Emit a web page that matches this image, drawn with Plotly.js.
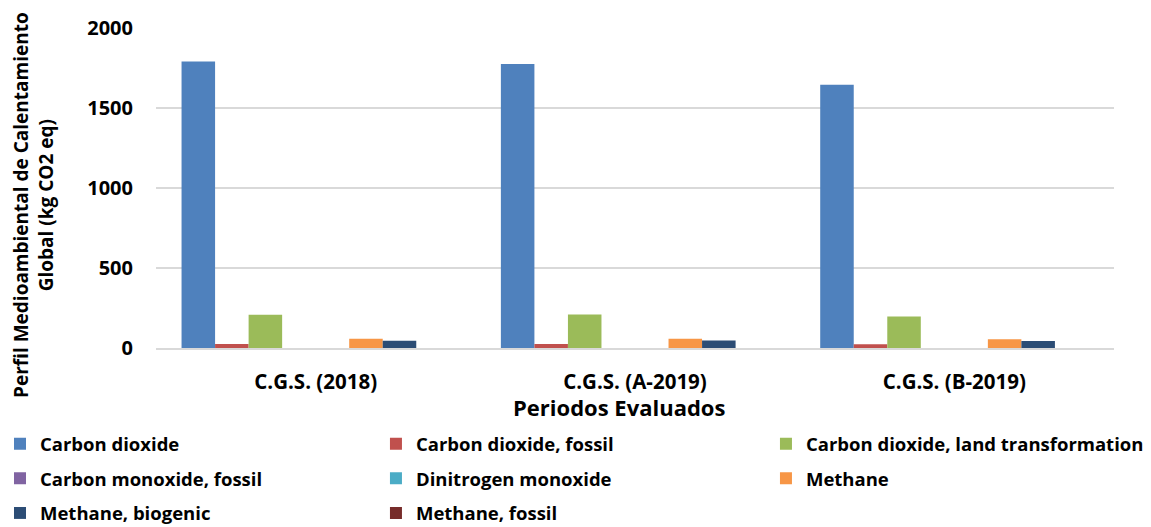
<!DOCTYPE html>
<html>
<head>
<meta charset="utf-8">
<script src="https://cdn.plot.ly/plotly-3.0.1.min.js"></script>
<style>html,body{margin:0;padding:0;background:#fff;}#chart{width:1151px;height:527px;}</style>
</head>
<body>
<div id="chart"></div>
<script>
const categories = ["C.G.S. (2018)", "C.G.S. (A-2019)", "C.G.S. (B-2019)"];
const seriesNames = ["Carbon dioxide", "Carbon dioxide, fossil", "Carbon dioxide, land transformation",
  "Carbon monoxide, fossil", "Dinitrogen monoxide", "Methane", "Methane, biogenic", "Methane, fossil"];
const carbonDioxide = [1790, 1775, 1645];
const carbonDioxideFossil = [25, 25, 24];
const carbonDioxideLand = [208, 210, 197];
const carbonMonoxideFossil = [0.3, 0.3, 0.3];
const dinitrogenMonoxide = [0.5, 0.5, 0.5];
const methane = [58, 58, 54];
const methaneBiogenic = [46, 47, 44];
const methaneFossil = [0.4, 0.4, 0.4];
const seriesValues = [carbonDioxide, carbonDioxideFossil, carbonDioxideLand, carbonMonoxideFossil,
  dinitrogenMonoxide, methane, methaneBiogenic, methaneFossil];
const colors = ["#4F81BD", "#C0504D", "#9BBB59", "#8064A2", "#4BACC6", "#F79646", "#2C4D75", "#772C2A"];
const yTicks = [0, 500, 1000, 1500, 2000];
const xTitle = "Periodos Evaluados";
const yTitle = "Perfil Medioambiental de Calentamiento<br>Global (kg CO2 eq)";

const FONT = "'Open Sans', sans-serif";
const legendIds = ["legend", "legend2", "legend3"];
const traces = seriesNames.map((n, i) => ({
  type: "bar", name: n, x: categories, y: seriesValues[i],
  marker: {color: colors[i], line: {width: 0}},
  legend: legendIds[i % 3], legendgroup: "g" + i,
  hoverinfo: "x+y+name"
}));

function legendAt(xPaper) {
  return {
    orientation: "v", xref: "paper", yref: "container",
    x: xPaper, y: 0.193, xanchor: "left", yanchor: "top",
    bgcolor: "rgba(0,0,0,0)", borderwidth: 0, tracegroupgap: 7.5,
    font: {family: FONT, size: 18.5, weight: "bold", color: "#000"},
    traceorder: "grouped"
  };
}

const layout = {
  width: 1151, height: 527,
  margin: {l: 156, r: 37, t: 28, b: 179},
  paper_bgcolor: "#fff", plot_bgcolor: "#fff",
  font: {family: FONT, color: "#000", size: 17, weight: "bold"},
  barmode: "group", bargap: 0.16, bargroupgap: 0,
  showlegend: true,
  legend: legendAt(-0.1733),
  legend2: legendAt(0.2296),
  legend3: legendAt(0.6367),
  xaxis: {
    type: "category", showgrid: false, showline: true, linecolor: "#d9d9d9", linewidth: 2,
    ticks: "", ticklabelstandoff: 14, tickfont: {family: FONT, size: 20.5, weight: "bold"},
    fixedrange: true
  },
  yaxis: {
    range: [0, 2000], tickvals: yTicks, ticktext: yTicks.map(String),
    showgrid: true, gridcolor: "#d9d9d9", gridwidth: 1.5, zeroline: false,
    ticks: "", ticklen: 0, ticklabelstandoff: 22, tickfont: {family: FONT, size: 20, weight: "bold"},
    fixedrange: true
  },
  annotations: [
    {text: xTitle, xref: "paper", yref: "paper", x: (619 - 156) / 958, y: -(407 - 348) / 320,
     xanchor: "center", yanchor: "middle", showarrow: false,
     font: {family: FONT, size: 22, weight: "bold", color: "#000"}},
    {text: yTitle, xref: "paper", yref: "paper", x: (33 - 156) / 958, y: (348 - 205) / 320,
     xanchor: "center", yanchor: "middle", showarrow: false, textangle: -90,
     font: {family: FONT, size: 19, weight: "bold", color: "#000"}}
  ]
};
Plotly.newPlot("chart", traces, layout, {displayModeBar: false, staticPlot: true});
</script>
</body>
</html>
